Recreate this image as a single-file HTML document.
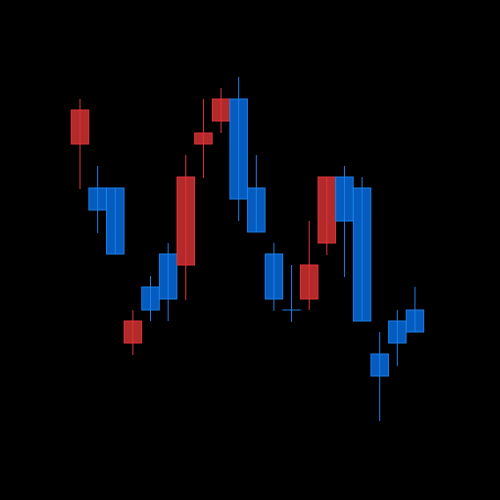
<!DOCTYPE html>
<html><head><meta charset="utf-8"><style>
html,body{margin:0;padding:0;background:#000;}
svg{display:block;}
</style></head><body>
<svg id="chart" width="500" height="500" xmlns="http://www.w3.org/2000/svg">
<rect width="500" height="500" fill="#000"/>
<g id="candles"></g>
</svg>
<script>
const categories = [1,2,3,4,5,6,7,8,9,10,11,12,13,14,15,16,17,18,19,20];
const opens  = [356,312,312,157,213,246,235,356,379,401,312,246,190,201,257,323,312,146,179,190];
const closes = [390,290,246,179,190,201,323,367,401,301,268,201,190,235,323,279,179,124,157,168];
const highs  = [401,334,312,190,224,257,345,401,412,423,345,257,235,279,323,334,323,168,190,213];
const lows   = [311,267,246,145,179,179,200,322,367,279,268,189,178,190,245,223,179,79,134,168];

const x0 = 80, step = 17.63, bodyW = 17.5;
function xScale(i){ return x0 + i*step; }
function yScale(v){ return 500 - v; }

const g = document.getElementById('candles');
const NS = 'http://www.w3.org/2000/svg';
categories.forEach((c,i)=>{
  const up = closes[i] > opens[i];
  const fill = up ? '#b22a2a' : '#065bbf';
  const stroke = up ? '#e0343a' : '#1a7fe8';
  const cx = xScale(i);
  const grp = document.createElementNS(NS,'g');
  
  
  const top = yScale(Math.max(opens[i],closes[i]));
  const bot = yScale(Math.min(opens[i],closes[i]));
  const body = document.createElementNS(NS,'rect');
  
  
  body.setAttribute('x', cx - bodyW/2);
  body.setAttribute('y', top);
  body.setAttribute('width', bodyW);
  body.setAttribute('height', Math.max(bot-top,0.01));
  body.setAttribute('fill', fill);
  body.setAttribute('stroke', stroke);
  body.setAttribute('stroke-width', '1');
  grp.appendChild(body);
  const wick = document.createElementNS(NS,'line');
  
  
  wick.setAttribute('x1', cx); wick.setAttribute('x2', cx);
  wick.setAttribute('y1', yScale(highs[i])); wick.setAttribute('y2', yScale(lows[i]));
  wick.setAttribute('stroke', stroke);
  wick.setAttribute('stroke-width', '1');
  grp.appendChild(wick);
  g.appendChild(grp);
});
</script>
</body></html>
